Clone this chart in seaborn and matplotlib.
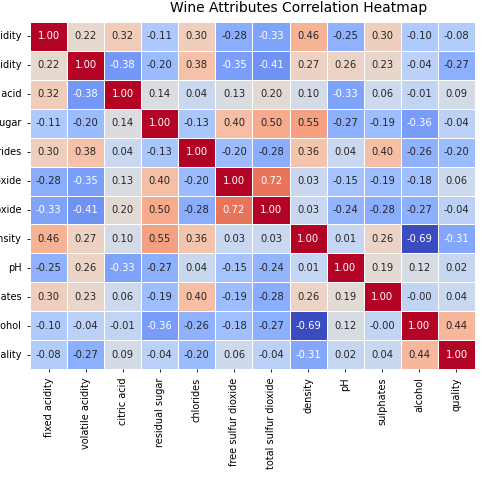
import numpy as np
import pandas as pd
import matplotlib
matplotlib.use('Agg')
import matplotlib.pyplot as plt
import seaborn as sns

# Wine attribute names (rows and columns of the correlation matrix)
attributes = ['fixed acidity', 'volatile acidity', 'citric acid', 'residual sugar',
              'chlorides', 'free sulfur dioxide', 'total sulfur dioxide', 'density',
              'pH', 'sulphates', 'alcohol', 'quality']

# Correlation values, one row per attribute
fixed_acidity = [1.00, 0.22, 0.32, -0.11, 0.30, -0.28, -0.33, 0.46, -0.25, 0.30, -0.10, -0.08]
volatile_acidity = [0.22, 1.00, -0.38, -0.20, 0.38, -0.35, -0.41, 0.27, 0.26, 0.23, -0.04, -0.27]
citric_acid = [0.32, -0.38, 1.00, 0.14, 0.04, 0.13, 0.20, 0.10, -0.33, 0.06, -0.01, 0.09]
residual_sugar = [-0.11, -0.20, 0.14, 1.00, -0.13, 0.40, 0.50, 0.55, -0.27, -0.19, -0.36, -0.04]
chlorides = [0.30, 0.38, 0.04, -0.13, 1.00, -0.20, -0.28, 0.36, 0.04, 0.40, -0.26, -0.20]
free_so2 = [-0.28, -0.35, 0.13, 0.40, -0.20, 1.00, 0.72, 0.03, -0.15, -0.19, -0.18, 0.06]
total_so2 = [-0.33, -0.41, 0.20, 0.50, -0.28, 0.72, 1.00, 0.03, -0.24, -0.28, -0.27, -0.04]
density = [0.46, 0.27, 0.10, 0.55, 0.36, 0.03, 0.03, 1.00, 0.01, 0.26, -0.69, -0.31]
ph = [-0.25, 0.26, -0.33, -0.27, 0.04, -0.15, -0.24, 0.01, 1.00, 0.19, 0.12, 0.02]
sulphates = [0.30, 0.23, 0.06, -0.19, 0.40, -0.19, -0.28, 0.26, 0.19, 1.00, -0.004, 0.04]
alcohol = [-0.10, -0.04, -0.01, -0.36, -0.26, -0.18, -0.27, -0.69, 0.12, -0.004, 1.00, 0.44]
quality = [-0.08, -0.27, 0.09, -0.04, -0.20, 0.06, -0.04, -0.31, 0.02, 0.04, 0.44, 1.00]

corr = pd.DataFrame([fixed_acidity, volatile_acidity, citric_acid, residual_sugar,
                     chlorides, free_so2, total_so2, density, ph, sulphates,
                     alcohol, quality], index=attributes, columns=attributes)

fig = plt.figure(figsize=(4.84, 4.83), dpi=100)
ax = fig.add_axes([30 / 484, 114 / 483, 445 / 484, 347 / 483])

# colour range left to the data (min -0.69, max 1.00), as in the original
sns.heatmap(corr, annot=True, fmt='.2f', cmap='coolwarm',
            linewidths=0.6, linecolor='white', cbar=False, ax=ax,
            annot_kws={'size': 7.2})

ax.tick_params(axis='both', labelsize=7, length=2.5, width=0.6)
plt.xticks(rotation=90)
plt.yticks(rotation=0)
fig.text(299 / 484, 1 - 8 / 483, 'Wine Attributes Correlation Heatmap',
         ha='center', va='center', fontsize=10)

plt.savefig('out.png', dpi=100)
